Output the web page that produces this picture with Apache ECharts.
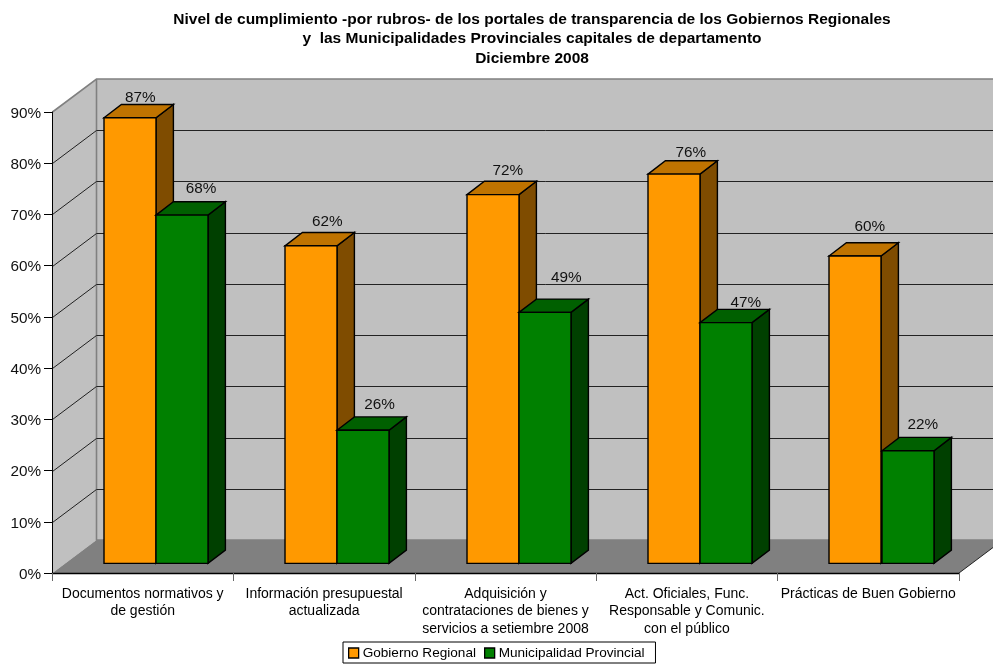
<!DOCTYPE html>
<html><head><meta charset="utf-8">
<style>html,body{margin:0;padding:0;background:#fff}#c{width:993px;height:664px}</style>
<script src="https://cdn.jsdelivr.net/npm/echarts@6/dist/echarts.min.js"></script>
</head><body><div id="c"></div>
<script>
const titleText = "Nivel de cumplimiento -por rubros- de los portales de transparencia de los Gobiernos Regionales\ny  las Municipalidades Provinciales capitales de departamento\nDiciembre 2008";
const categories = ["Documentos normativos y\nde gestión","Información presupuestal\nactualizada","Adquisición y\ncontrataciones de bienes y\nservicios a setiembre 2008","Act. Oficiales, Func.\nResponsable y Comunic.\ncon el público","Prácticas de Buen Gobierno"];
const gobiernoRegional = [87,62,72,76,60];
const municipalidadProvincial = [68,26,49,47,22];
const yTicks = [0,10,20,30,40,50,60,70,80,90];

// hand-placed label offsets of the original chart, relative to the bar's top back edge
const labelNudgeGobierno = [[1.6,-6.4],[7.6,-11.1],[6,-10.9],[8,-7.7],[6,-15.6]];
const labelNudgeMunicipal = [[10.3,-13.3],[7.8,-12.1],[12.6,-20.9],[11,-6.2],[6.1,-12.6]];

const FONT = '"Liberation Sans", Arial, sans-serif';
const WALL = [44,33], SHIFT = [13.2,9.6], DEPTH = [17.4,13.3], BAR_FRAC = 0.2867;
const poly = (points, fill, stroke, lw) => ({type:'polygon',shape:{points},style:{fill,stroke:stroke||null,lineWidth:lw||0}});
const line = (points, stroke, lw) => ({type:'polyline',shape:{points},style:{fill:null,stroke,lineWidth:lw}});

function renderWalls(params, api){
  const r = params.coordSys, v = api.value(0), y = Math.round(api.coord([0,v])[1])+0.5;
  const L = r.x+0.5, R = r.x+r.width, T = r.y, B = r.y+r.height, far = R+WALL[0];
  const bx = L+WALL[0], by = B-WALL[1], ty = T-WALL[1];
  if (v === 0) {
    return {type:'group',children:[
      poly([[L,T],[bx,ty],[bx,by],[L,B]],'#c0c0c0'),
      poly([[bx,ty],[far,ty],[far,by],[bx,by]],'#c0c0c0'),
      poly([[L,B],[bx,by],[far,by],[R,B]],'#808080'),
      line([[R,B],[far,by]],'#222',1),
      line([[L,T],[bx,ty],[far,ty]],'#808080',1.6),
      line([[bx,ty],[bx,by],[far,by]],'#808080',1.6)
    ]};
  }
  if (v >= yTicks[yTicks.length-1]) return {type:'group',children:[]};
  return line([[L,y],[bx,y-WALL[1]],[far,y-WALL[1]]],'#222',1);
}

function makeBarRender(side, front, top, dark, nudges){
  return function(params, api){
    const i = api.value(0), v = api.value(1);
    const band = api.size([1,0])[0], w = band*BAR_FRAC;
    const c = api.coord([i,v]), b = api.coord([i,0]);
    const xc = c[0]+SHIFT[0], x0 = Math.round(side<0 ? xc-w : xc), x1 = x0+Math.round(w);
    const yt = c[1]-SHIFT[1], yb = b[1]-SHIFT[1];
    const dx = DEPTH[0], dy = DEPTH[1], n = nudges[i];
    return {type:'group',children:[
      poly([[x1,yt],[x1+dx,yt-dy],[x1+dx,yb-dy],[x1,yb]],dark,'#000',1.4),
      poly([[x0,yt],[x0+dx,yt-dy],[x1+dx,yt-dy],[x1,yt]],top,'#000',1.4),
      poly([[x0,yt],[x1,yt],[x1,yb],[x0,yb]],front,'#000',1.4),
      {type:'text',style:{text:v+'%',x:(x0+x1)/2+dx/2+n[0],y:yt-dy+n[1],textAlign:'center',textVerticalAlign:'middle',font:'15.3px '+FONT,fill:'#111'}}
    ]};
  };
}

const chart = echarts.init(document.getElementById('c'),null,{renderer:'canvas'});
chart.setOption({
  animation:false,
  backgroundColor:'#fff',
  title:{text:titleText,left:527,top:4.5,textAlign:'center',textStyle:{fontFamily:FONT,fontSize:15.5,fontWeight:'bold',color:'#000',lineHeight:19.5}},
  legend:{
    data:['Gobierno Regional','Municipalidad Provincial'],left:343,top:642,
    backgroundColor:'#fff',borderColor:'#000',borderWidth:1,borderRadius:0,padding:[4,11,3,5],
    itemWidth:10,itemHeight:10,itemGap:8,icon:'rect',
    itemStyle:{borderColor:'#000',borderWidth:1.3},
    textStyle:{fontFamily:FONT,fontSize:13.6,color:'#000',padding:[0,0,0,-1]}
  },
  grid:{left:52,right:34,top:112,bottom:91},
  xAxis:{type:'category',data:categories,z:5,
    axisLine:{lineStyle:{color:'#000',width:1.3}},
    axisTick:{show:true,length:8,lineStyle:{color:'#666'},alignWithLabel:false},
    axisLabel:{interval:0,margin:12,fontFamily:FONT,fontSize:14,color:'#000',lineHeight:17.5,align:'center',verticalAlign:'top'},
    splitLine:{show:false}},
  yAxis:{type:'value',min:0,max:90,interval:10,z:5,
    axisLine:{show:true,lineStyle:{color:'#000',width:1}},
    axisTick:{show:true,length:8,lineStyle:{color:'#000'}},
    axisLabel:{formatter:'{value}%',margin:11,fontFamily:FONT,fontSize:15.3,color:'#111',verticalAlign:'top',lineHeight:3},
    splitLine:{show:false}},
  series:[
    {type:'custom',name:'walls',z:1,silent:true,clip:false,data:yTicks.map(v=>[v]),renderItem:renderWalls,encode:{y:0}},
    {type:'custom',name:'Gobierno Regional',z:2,clip:false,itemStyle:{color:'#ff9900'},
     data:gobiernoRegional.map((v,i)=>[i,v]),encode:{x:0,y:1},
     renderItem:makeBarRender(-1,'#ff9900','#bf7300','#7f4c00',labelNudgeGobierno)},
    {type:'custom',name:'Municipalidad Provincial',z:2,clip:false,itemStyle:{color:'#008000'},
     data:municipalidadProvincial.map((v,i)=>[i,v]),encode:{x:0,y:1},
     renderItem:makeBarRender(1,'#008000','#006000','#004000',labelNudgeMunicipal)}
  ]
});
</script></body></html>
